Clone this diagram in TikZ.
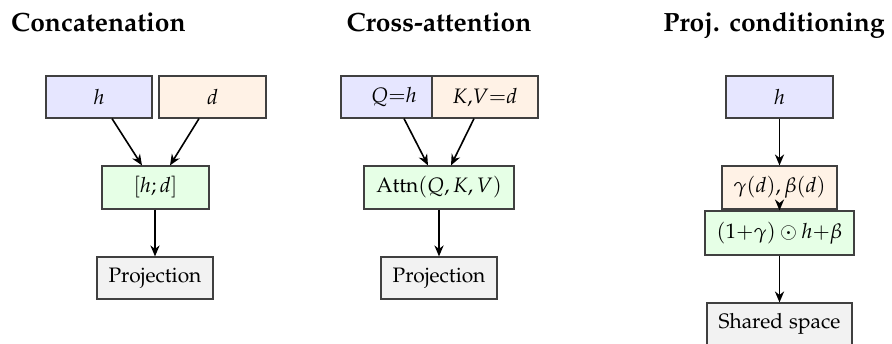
\documentclass[tikz,border=0pt]{standalone}
\usepackage[T1]{fontenc}
\usepackage[sc]{mathpazo}
\usetikzlibrary{arrows.meta,calc}
\definecolor{bluef}{RGB}{230,230,255}
\definecolor{orangef}{RGB}{255,242,230}
\definecolor{greenf}{RGB}{230,255,230}
\definecolor{grayf}{RGB}{242,242,242}
\tikzset{
  box/.style={draw=black!75, line width=0.6pt, rectangle, inner sep=0pt, minimum height=21pt, font=\fontsize{10.45}{12}\selectfont},
  bbox/.style={box, fill=bluef},
  obox/.style={box, fill=orangef},
  gbox/.style={box, fill=greenf},
  pbox/.style={box, fill=grayf},
  arr/.style={-{Stealth[length=5.5pt,width=4.6pt]}, line width=0.8pt, black},
  ttl/.style={font=\fontsize{13.2}{15}\selectfont\bfseries, anchor=base, inner sep=0pt}
}
\begin{document}
\begin{tikzpicture}[x=0.5pt,y=-0.5pt]
\useasboundingbox (0,0) rectangle (892,343);
% titles
\node[ttl] (t1) at (98.5,31) {Concatenation};
\node[ttl] (t2) at (439,31) {Cross-attention};
\node[ttl] (t3) at (774,31) {Proj. conditioning};
% concatenation
\node[bbox, minimum width=53pt] (h1) at (99,97) {$h$};
\node[obox, minimum width=53.5pt] (d1) at (212.5,97) {$d$};
\node[gbox, minimum width=53.5pt, minimum height=21.5pt] (cat) at (155.5,187.5) {$[h;d]$};
\node[pbox, minimum width=58pt] (p1) at (155,278) {Projection};
\draw[arr] ($(h1.south)+(13,0)$) -- ($(cat.north)+(-13.5,0)$);
\draw[arr] ($(d1.south)+(-13.5,0)$) -- ($(cat.north)+(14.5,0)$);
\draw[arr] (cat.south -| p1) -- (p1.north);
% cross-attention
\node[bbox, minimum width=53pt] (q) at (394,97) {$Q{=}h$};
\node[obox, minimum width=53pt] (kv) at (485,97) {$K{,}V{=}d$};
\node[gbox, minimum width=75pt, minimum height=21.5pt] (att) at (439,187.5) {$\mathrm{Attn}(Q,K,V)$};
\node[pbox, minimum width=58pt] (p2) at (439,278) {Projection};
\draw[arr] ($(q.south)+(10,0)$) -- ($(att.north)+(-11,0)$);
\draw[arr] ($(kv.south)+(-11,0)$) -- ($(att.north)+(12,0)$);
\draw[arr] (att.south) -- (p2.north);
% projection conditioning
\node[bbox, minimum width=53.5pt] (h3) at (779.5,97) {$h$};
\node[obox, minimum width=57.5pt, minimum height=21.5pt] (gb) at (779.5,187.5) {$\gamma(d),\beta(d)$};
\node[gbox, minimum width=74.5pt, minimum height=22pt] (mod) at (779.5,233) {$(1{+}\gamma)\odot h{+}\beta$};
\node[pbox, minimum width=72.5pt] (sh) at (779.5,324) {Shared space};
\draw[arr] (h3.south) -- (gb.north);
\draw[arr] (gb.south) -- (mod.north);
\draw[arr] (mod.south) -- (sh.north);
\end{tikzpicture}
\end{document}
